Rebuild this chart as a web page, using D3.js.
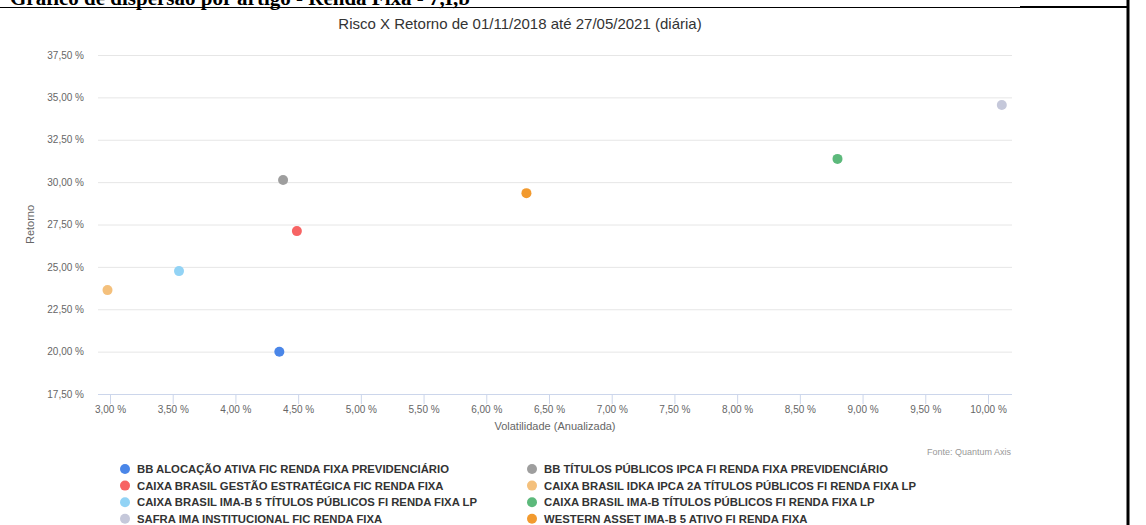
<!DOCTYPE html>
<html>
<head>
<meta charset="utf-8">
<script src="https://cdn.jsdelivr.net/npm/d3@7"></script>
<style>
  body { margin: 0; background: #fff; }
  svg { display: block; font-family: "Liberation Sans", Arial, Helvetica, sans-serif; }
</style>
</head>
<body>
<div id="chart"></div>
<script>
// Fund names, legend order (column 1 then column 2)
const funds = [
  'BB ALOCAÇÃO ATIVA FIC RENDA FIXA PREVIDENCIÁRIO',
  'CAIXA BRASIL GESTÃO ESTRATÉGICA FIC RENDA FIXA',
  'CAIXA BRASIL IMA-B 5 TÍTULOS PÚBLICOS FI RENDA FIXA LP',
  'SAFRA IMA INSTITUCIONAL FIC RENDA FIXA',
  'BB TÍTULOS PÚBLICOS IPCA FI RENDA FIXA PREVIDENCIÁRIO',
  'CAIXA BRASIL IDKA IPCA 2A TÍTULOS PÚBLICOS FI RENDA FIXA LP',
  'CAIXA BRASIL IMA-B TÍTULOS PÚBLICOS FI RENDA FIXA LP',
  'WESTERN ASSET IMA-B 5 ATIVO FI RENDA FIXA'
];
const volatility = [4.35, 4.49, 3.55, 10.11, 4.38, 2.98, 8.80, 6.32];
const returns = [19.99, 27.11, 24.75, 34.55, 30.13, 23.63, 31.37, 29.35];
const colors = ['#4a86e8', '#f76464', '#92d3f5', '#c5c8da', '#9e9e9e', '#f4c07c', '#5cb97b', '#f29a2e'];

const xTicks = [3, 3.5, 4, 4.5, 5, 5.5, 6, 6.5, 7, 7.5, 8, 8.5, 9, 9.5, 10];
const yTicks = [17.5, 20, 22.5, 25, 27.5, 30, 32.5, 35, 37.5];

const width = 1146, height = 525;
const plot = { left: 98, right: 1012, top: 55, bottom: 394 };
const fmt = v => v.toFixed(2).replace('.', ',') + ' %';

const svg = d3.select('#chart').append('svg')
  .attr('width', width)
  .attr('height', height);

svg.append('rect').attr('width', width).attr('height', height).attr('fill', '#fff');

// Document heading above the chart (cropped at the top in the source)
svg.append('text')
  .attr('x', 10)
  .attr('y', 5)
  .attr('font-family', '"Liberation Serif", "Times New Roman", serif')
  .attr('font-weight', 'bold')
  .attr('font-size', '21px')
  .attr('fill', '#000')
  .text('Gráfico de dispersão por artigo - Renda Fixa - 7,I,b');

// Page frame lines
svg.append('line').attr('x1', 0).attr('x2', 1021).attr('y1', 7.5).attr('y2', 7.5)
  .attr('stroke', '#000').attr('stroke-width', 1);
svg.append('line').attr('x1', 1020).attr('x2', 1128).attr('y1', 7).attr('y2', 7)
  .attr('stroke', '#000').attr('stroke-width', 2);
svg.append('line').attr('x1', 1128).attr('x2', 1128).attr('y1', 0).attr('y2', height)
  .attr('stroke', '#000').attr('stroke-width', 3);

// Scales: tick 3,00% at x=110, 10,00% at x=988
const x = d3.scaleLinear().domain([3, 10]).range([110, 988]);
const y = d3.scaleLinear().domain([17.5, 37.5]).range([plot.bottom, plot.top]);

// Title
svg.append('text')
  .attr('x', 520)
  .attr('y', 29)
  .attr('text-anchor', 'middle')
  .attr('font-size', '15px')
  .attr('fill', '#333')
  .text('Risco X Retorno de 01/11/2018 até 27/05/2021 (diária)');

// Y grid and labels
const yAxis = svg.append('g')
  .attr('transform', `translate(${plot.left},0)`)
  .call(d3.axisLeft(y).tickValues(yTicks).tickFormat(fmt)
    .tickSize(-(plot.right - plot.left)).tickPadding(14));
yAxis.select('.domain').remove();
yAxis.selectAll('.tick line').attr('stroke', '#e6e6e6');
yAxis.selectAll('.tick text')
  .attr('fill', '#666')
  .attr('font-size', '10px')
  .attr('font-family', '"Liberation Sans", Arial, sans-serif');

// X axis
const xAxis = svg.append('g')
  .attr('transform', `translate(0,${plot.bottom})`)
  .call(d3.axisBottom(x).tickValues(xTicks).tickFormat(fmt).tickSize(10).tickSizeOuter(0).tickPadding(2));
xAxis.select('.domain')
  .attr('d', `M${plot.left},0.5H${plot.right}`)
  .attr('stroke', '#ccd6eb');
xAxis.selectAll('.tick line').attr('stroke', '#ccd6eb');
xAxis.selectAll('.tick text')
  .attr('fill', '#666')
  .attr('font-size', '10px')
  .attr('font-family', '"Liberation Sans", Arial, sans-serif');

// Axis titles
svg.append('text')
  .attr('x', 555)
  .attr('y', 430)
  .attr('text-anchor', 'middle')
  .attr('font-size', '11px')
  .attr('fill', '#666')
  .text('Volatilidade (Anualizada)');

svg.append('text')
  .attr('transform', `translate(34, ${(plot.top + plot.bottom) / 2}) rotate(-90)`)
  .attr('text-anchor', 'middle')
  .attr('font-size', '11px')
  .attr('fill', '#666')
  .text('Retorno');

// Points
svg.append('g')
  .selectAll('circle')
  .data(funds)
  .join('circle')
  .attr('cx', (d, i) => x(volatility[i]))
  .attr('cy', (d, i) => y(returns[i]))
  .attr('r', 5)
  .attr('fill', (d, i) => colors[i]);

// Credits
svg.append('text')
  .attr('x', 1011)
  .attr('y', 455)
  .attr('text-anchor', 'end')
  .attr('font-size', '9px')
  .attr('fill', '#999')
  .text('Fonte: Quantum Axis');

// Legend: two columns of four
const legend = svg.append('g');
funds.forEach((name, i) => {
  const col = Math.floor(i / 4), row = i % 4;
  const lx = col === 0 ? 125 : 532;
  const ly = 469 + row * 16.6;
  legend.append('circle')
    .attr('cx', lx)
    .attr('cy', ly)
    .attr('r', 5)
    .attr('fill', colors[i]);
  legend.append('text')
    .attr('x', lx + 12)
    .attr('y', ly + 4)
    .attr('font-size', '11.3px')
    .attr('font-weight', 'bold')
    .attr('fill', '#333')
    .text(name);
});
</script>
</body>
</html>
